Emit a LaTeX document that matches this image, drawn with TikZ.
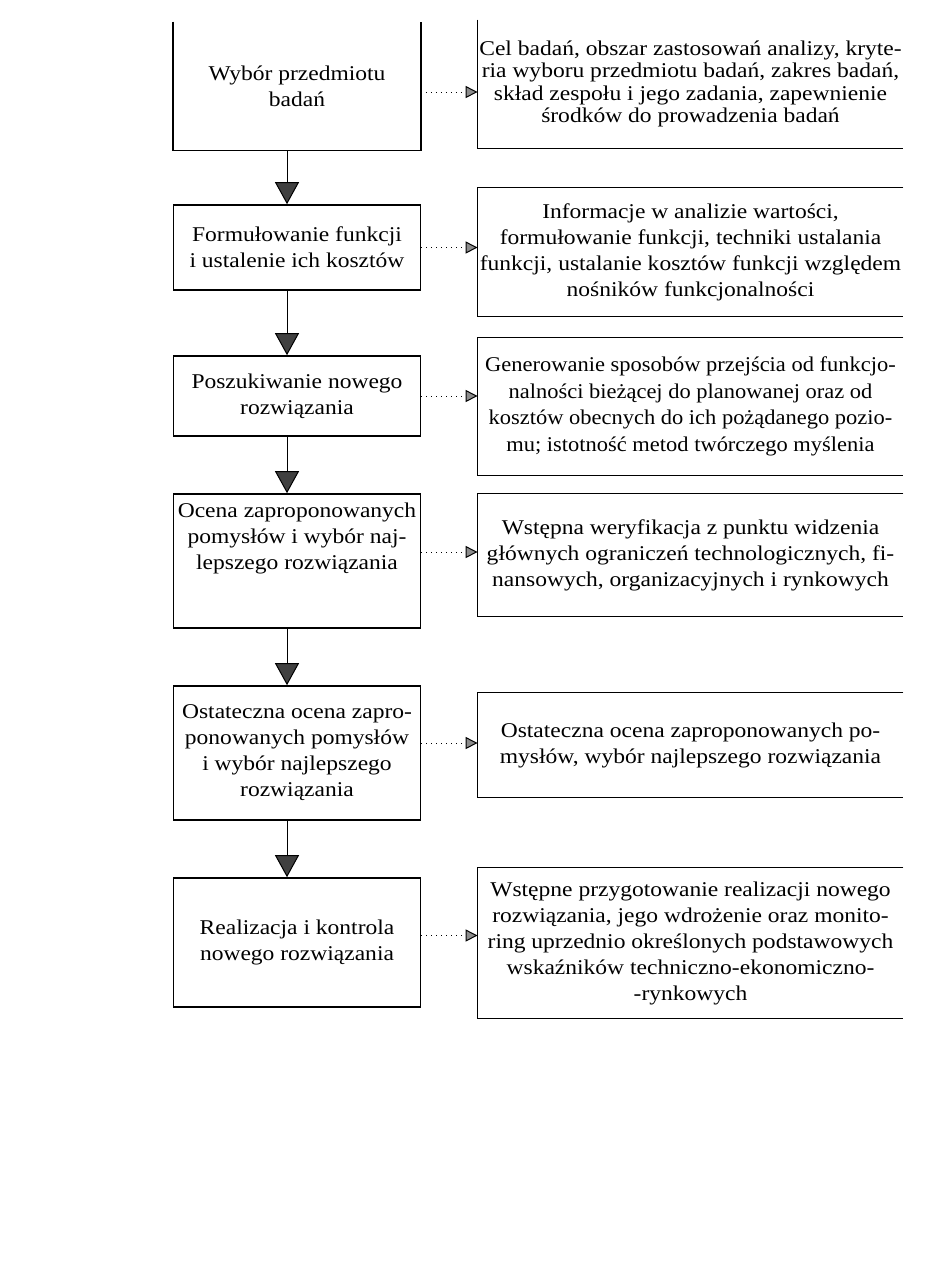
\documentclass[tikz,border=0pt]{standalone}
\usepackage{fontspec}
\setmainfont{Liberation Serif}[FakeStretch=1.12]
\usepackage{tikz}
\usetikzlibrary{calc,arrows.meta}

\tikzset{
  stage/.style={minimum width=123.5pt, align=center, inner sep=0pt,
    font=\fontsize{10.5pt}{13pt}\selectfont},
  note/.style={minimum width=212.5pt, align=center, inner sep=0pt,
    font=\fontsize{10.5pt}{13pt}\selectfont},
  flow/.style={line width=0.5pt, -{Triangle[width=12pt,length=11pt,fill=black!75]}},
  info/.style={dotted, line width=0.5pt, -{Triangle[width=6pt,length=6pt,fill=black!45]}},
  frame/.style={line width=0.8pt}
}

\begin{document}
\begin{tikzpicture}[x=0.5pt,y=-0.5pt]
\useasboundingbox (0,0) rectangle (928,1271);

% etapy
\node[stage, minimum height=64pt] (w1) at (297,86) {Wybór przedmiotu\\badań};
\node[stage, minimum height=42.5pt, draw, frame] (w2) at (297,247.5) {Formułowanie funkcji\\i ustalenie ich kosztów};
\node[stage, minimum height=40pt, draw, frame] (w3) at (297,396) {Poszukiwanie nowego\\rozwiązania};
\node[stage, minimum height=67pt, draw, frame] (w4) at (297,561) {Ocena zaproponowanych\\pomysłów i wybór naj-\\lepszego rozwiązania\\[12pt]};
\node[stage, minimum height=67pt, draw, frame] (w5) at (297,753) {Ostateczna ocena zapro-\\ponowanych pomysłów\\i wybór najlepszego\\rozwiązania};
\node[stage, minimum height=64.5pt, draw, frame] (w6) at (297,942.5) {Realizacja i kontrola\\nowego rozwiązania};
\draw[frame] (w1.north west) -- (w1.south west) -- (w1.south east) -- (w1.north east);

% opisy
\node[note, minimum height=64pt, font=\fontsize{10.5pt}{11.2pt}\selectfont] (r1) at (690.5,84) {Cel badań, obszar zastosowań analizy, kryte-\\ria wyboru przedmiotu badań, zakres badań,\\skład zespołu i jego zadania, zapewnienie\\środków do prowadzenia badań};
\node[note, minimum height=64pt] (r2) at (690.5,252) {Informacje w analizie wartości,\\formułowanie funkcji, techniki ustalania\\funkcji, ustalanie kosztów funkcji względem\\nośników funkcjonalności};
\node[note, minimum height=68.5pt, font=\fontsize{10.5pt}{13.3pt}\selectfont\addfontfeature{FakeStretch=1.07}] (r3) at (690.5,406.5) {Generowanie sposobów przejścia od funkcjo-\\nalności bieżącej do planowanej oraz od\\kosztów obecnych do ich pożądanego pozio-\\mu; istotność metod twórczego myślenia};
\node[note, minimum height=61pt] (r4) at (690.5,555) {Wstępna weryfikacja z punktu widzenia\\głównych ograniczeń technologicznych, fi-\\nansowych, organizacyjnych i rynkowych};
\node[note, minimum height=52pt] (r5) at (690.5,745) {Ostateczna ocena zaproponowanych po-\\mysłów, wybór najlepszego rozwiązania};
\node[note, minimum height=75pt] (r6) at (690.5,943) {Wstępne przygotowanie realizacji nowego\\rozwiązania, jego wdrożenie oraz monito-\\ring uprzednio określonych podstawowych\\wskaźników techniczno-ekonomiczno-\\-rynkowych};
\draw[frame] (r1.north west) -- (r1.south west) -- (r1.south east);
\foreach \i in {2,...,6}
  \draw[frame] (r\i.north east) -- (r\i.north west) -- (r\i.south west) -- (r\i.south east);

% strzalki w dol
\coordinate (axis) at (287,0);
\foreach \i/\j in {1/2,2/3,3/4,4/5,5/6}
  \draw[flow] (w\i.south -| axis) -- (w\j.north -| axis);

% strzalki do opisow
\draw[info] ([yshift=-3pt]w1.east) -- ([yshift=-3pt]w1.east -| r1.west);
\draw[info] (w2.east) -- (w2.east -| r2.west);
\draw[info] (w3.east) -- (w3.east -| r3.west);
\draw[info] ([yshift=4.5pt]w4.east) -- ([yshift=4.5pt]w4.east -| r4.west);
\draw[info] ([yshift=5pt]w5.east) -- ([yshift=5pt]w5.east -| r5.west);
\draw[info] ([yshift=3.5pt]w6.east) -- ([yshift=3.5pt]w6.east -| r6.west);

\end{tikzpicture}
\end{document}
